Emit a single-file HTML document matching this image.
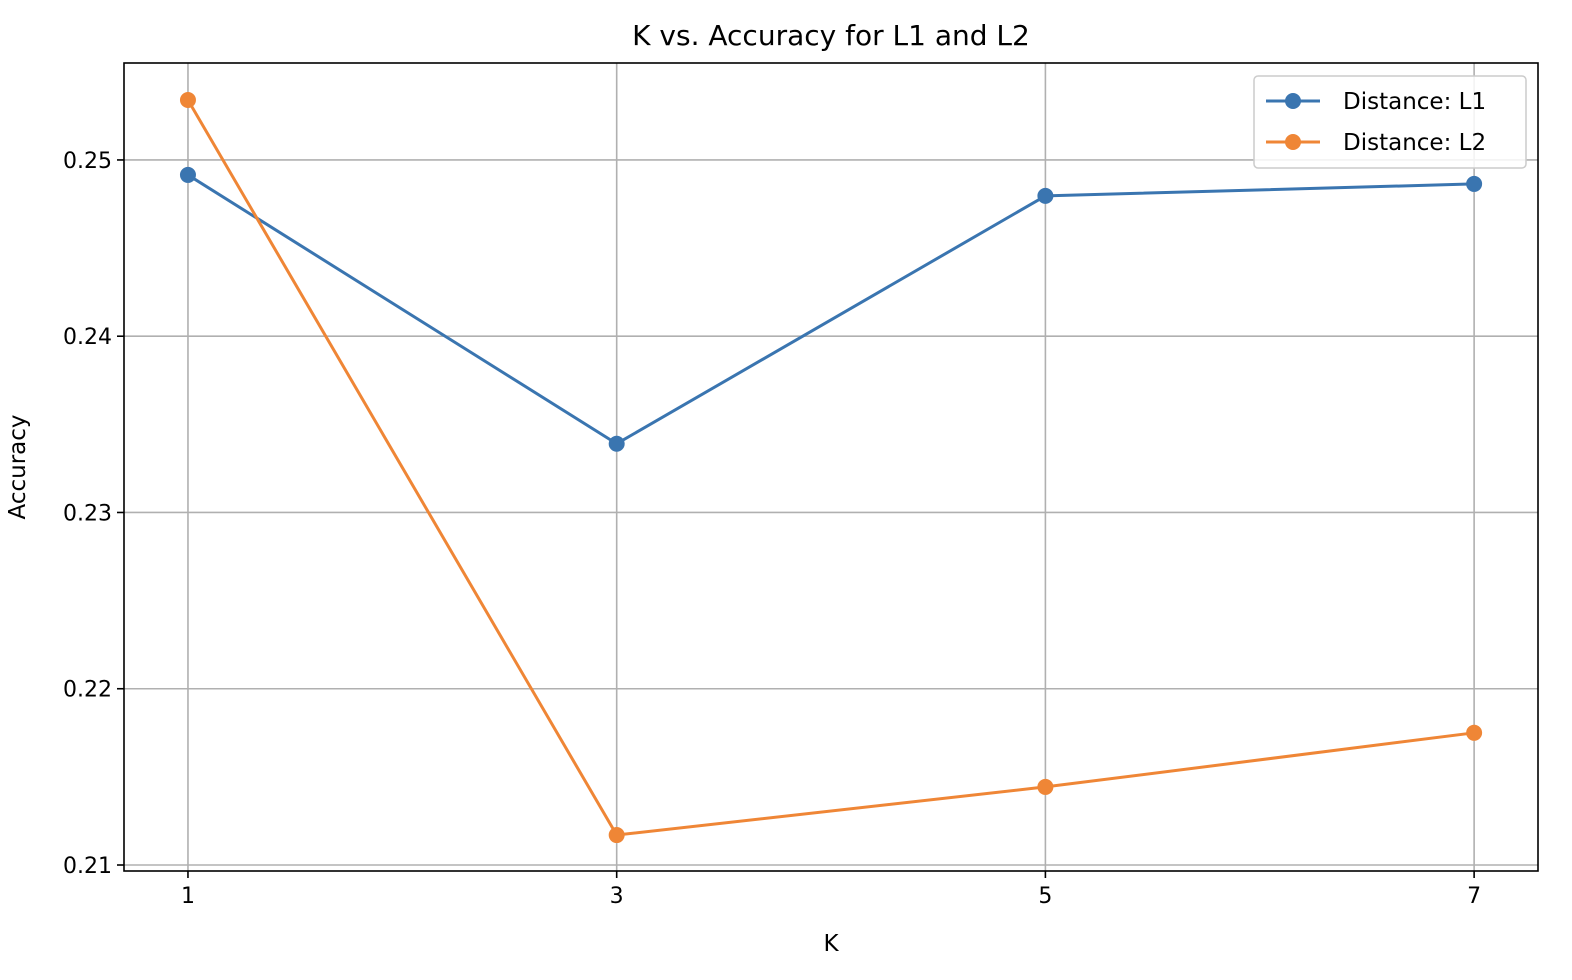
<!DOCTYPE html>
<html><head><meta charset="utf-8"><style>
html,body{margin:0;padding:0;background:#fff;}
svg{display:block;font-family:"DejaVu Sans","Liberation Sans",sans-serif;}
</style></head><body>
<svg id="chart" width="1572" height="980" viewBox="0 0 1572 980">
<text x="831" y="45" font-size="28" text-anchor="middle" fill="#000">K vs. Accuracy for L1 and L2</text>
<g id="grid"></g>
<g id="axes"></g>
<g id="series"></g>
<rect x="124" y="63" width="1414" height="808" fill="none" stroke="#000" stroke-width="1.6"/>
<text x="831" y="951" font-size="23" text-anchor="middle">K</text>
<text transform="translate(25,467) rotate(-90)" font-size="23" text-anchor="middle">Accuracy</text>
<g>
<rect x="1254" y="76" width="272" height="92" rx="4" fill="#fff" fill-opacity="0.85" stroke="#ccc" stroke-width="1.5"/>
<g>
<line x1="1266" y1="101" x2="1320" y2="101" stroke="#3a75b0" stroke-width="3"/>
<circle cx="1293" cy="101" r="8" fill="#3a75b0"/>
<text x="1343" y="109" font-size="23">Distance: L1</text></g>
<g>
<line x1="1266" y1="142" x2="1320" y2="142" stroke="#ef8636" stroke-width="3"/>
<circle cx="1293" cy="142" r="8" fill="#ef8636"/>
<text x="1343" y="150" font-size="23">Distance: L2</text></g>
</g>
</svg>
<script>
const categories = [1, 3, 5, 7];
const l1Values = [0.24915, 0.2339, 0.24796, 0.24864];
const l2Values = [0.2534, 0.2117, 0.21443, 0.2175];
const yTicks = [0.21, 0.22, 0.23, 0.24, 0.25];
const yTickLabels = ["0.21", "0.22", "0.23", "0.24", "0.25"];

const NS = "http://www.w3.org/2000/svg";
const X0 = 124, X1 = 1538, Y0 = 63, Y1 = 871;
const xMin = 0.7016, xMax = 7.298, yMin = 0.20966, yMax = 0.2555;
function xs(v){ return X0 + (v - xMin) / (xMax - xMin) * (X1 - X0); }
function ys(v){ return Y1 - (v - yMin) / (yMax - yMin) * (Y1 - Y0); }
function mk(tag, attrs, parent){ const e = document.createElementNS(NS, tag); for (const k in attrs) e.setAttribute(k, attrs[k]); parent.appendChild(e); return e; }
const grid = document.getElementById('grid'), axes = document.getElementById('axes'), series = document.getElementById('series');

categories.forEach(c => {
  const x = xs(c);
  const g = mk('line', {x1:x, x2:x, y1:Y0, y2:Y1, stroke:'#b0b0b0', 'stroke-width':1.6}, grid);
  
  
  mk('line', {x1:x, x2:x, y1:Y1, y2:Y1+7, stroke:'#000', 'stroke-width':1.6}, axes);
  const t = mk('text', {x:x, y:Y1+32, 'font-size':22, 'text-anchor':'middle'}, axes);
  t.textContent = String(c);
  
  
});
yTicks.forEach((v, i) => {
  const y = ys(v);
  const g = mk('line', {x1:X0, x2:X1, y1:y, y2:y, stroke:'#b0b0b0', 'stroke-width':1.6}, grid);
  
  
  mk('line', {x1:X0-7, x2:X0, y1:y, y2:y, stroke:'#000', 'stroke-width':1.6}, axes);
  const t = mk('text', {x:X0-12, y:y+8, 'font-size':22, 'text-anchor':'end'}, axes);
  t.textContent = yTickLabels[i];
  
  
});
function drawSeries(vals, color, name){
  const pts = vals.map((v, i) => xs(categories[i]) + ',' + ys(v)).join(' ');
  const pl = mk('polyline', {points:pts, fill:'none', stroke:color, 'stroke-width':3, 'stroke-linejoin':'round'}, series);
  
  
  vals.forEach((v, i) => {
    const c = mk('circle', {cx:xs(categories[i]), cy:ys(v), r:8, fill:color}, series);
    
    
  });
}
drawSeries(l1Values, '#3a75b0', 'l1');
drawSeries(l2Values, '#ef8636', 'l2');
</script>
</body></html>
